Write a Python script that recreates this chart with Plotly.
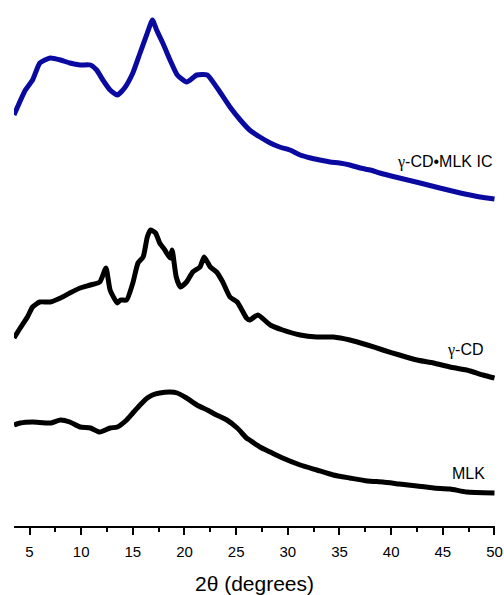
import plotly.graph_objects as go

# 2theta (degrees) and intensity (a.u., offset-stacked)
ic_2theta = [3.5, 4.6, 5.3, 6.0, 7.0, 8.0, 8.9, 9.9, 10.9, 11.5, 12.1, 12.8, 13.5, 14.2, 15.0, 15.7,
             16.4, 16.9, 17.3, 17.9, 18.6, 19.3, 20.2, 21.2, 22.2, 23.1, 24.4, 25.4, 26.3, 27.3,
             28.3, 29.2, 30.2, 31.2, 32.2, 33.1, 34.1, 35.0, 36.0, 37.0, 38.0, 38.9, 40.8, 42.8,
             44.7, 46.7, 48.6, 50.0]
ic_int = [411, 436, 446, 463, 468, 466, 463, 461, 461, 456, 446, 436, 431, 438, 453, 473,
          493, 506, 496, 483, 466, 451, 444, 451, 451, 439, 419, 406, 396, 389,
          383, 379, 376, 371, 368, 366, 364, 363, 361, 358, 356, 353, 348, 343,
          338, 333, 329, 327]

cd_2theta = [3.5, 4.1, 4.8, 5.3, 6.0, 7.0, 8.0, 8.9, 9.9, 10.9, 11.8, 12.4, 12.8, 13.5, 13.8, 14.4,
             15.0, 15.5, 16.0, 16.4, 16.7, 17.2, 17.6, 18.1, 18.6, 18.8, 19.2, 19.6, 20.2, 20.8,
             21.5, 21.9, 22.5, 23.1, 23.7, 24.4, 25.1, 26.0, 26.3, 27.1, 28.3, 29.5, 31.2, 32.8,
             34.4, 36.0, 37.7, 39.2, 40.8, 42.5, 44.1, 45.7, 47.3, 48.9, 50.0]
cd_int = [188, 198, 209, 219, 224, 224, 228, 233, 238, 241, 244, 258, 236, 223, 226, 226,
          243, 263, 269, 289, 296, 293, 283, 276, 268, 276, 249, 239, 244, 254,
          259, 269, 259, 254, 244, 229, 224, 208, 206, 211, 201, 196, 191, 189,
          189, 186, 181, 176, 171, 166, 163, 159, 156, 151, 148]

mlk_2theta = [3.5, 4.1, 5.3, 7.0, 8.0, 8.9, 9.9, 10.9, 11.8, 12.8, 13.5, 14.4, 15.0, 15.7, 16.4,
              16.9, 17.6, 18.6, 19.3, 20.2, 21.2, 22.2, 23.1, 24.1, 25.1, 26.0, 26.3, 27.3, 28.3,
              29.5, 31.2, 32.8, 34.4, 36.0, 37.7, 39.2, 40.8, 42.5, 44.1, 45.7, 47.3, 50.0]
mlk_int = [101, 103, 104, 103, 106, 104, 99, 98, 94, 98, 99, 106, 113, 121, 128,
           131, 133, 134, 133, 128, 121, 116, 111, 106, 98, 88, 86, 79, 74,
           68, 61, 56, 51, 48, 45, 44, 42, 40, 38, 37, 34, 33]

labels = ["γ-CD•MLK IC", "γ-CD", "MLK"]
label_x = [50.0, 49.2, 49.3]
label_y = [364, 176, 53]
colors = ["#0a0aa0", "#000000", "#000000"]

fig = go.Figure()
for xs, ys, c in [(ic_2theta, ic_int, colors[0]), (cd_2theta, cd_int, colors[1]), (mlk_2theta, mlk_int, colors[2])]:
    fig.add_trace(go.Scatter(x=xs, y=ys, mode="lines",
                             line=dict(color=c, width=5, shape="spline", smoothing=0.5),
                             showlegend=False, hoverinfo="skip"))

for t, lx, ly in zip(labels, label_x, label_y):
    t_html = t.replace("γ", '<span style="font-family:Liberation Serif">γ</span>')
    fig.add_annotation(x=lx, y=ly, text=t_html, showarrow=False, xanchor="right", yanchor="middle",
                       font=dict(family="Liberation Sans, Arial", size=16, color="#000000"))

fig.update_layout(
    width=504, height=595,
    margin=dict(l=14, r=9, t=0, b=69),
    paper_bgcolor="white", plot_bgcolor="white",
    font=dict(family="Liberation Sans, Arial", color="#000000"),
    xaxis=dict(range=[3.5, 50.05], showgrid=False, zeroline=False, showline=True, linecolor="black",
               linewidth=1.5, ticks="outside", ticklen=7, tickwidth=1.5, tickcolor="black",
               tickmode="array", tickvals=[5, 10, 15, 20, 25, 30, 35, 40, 45, 50],
               ticktext=["5", "10", "15", "20", "25", "30", "35", "40", "45", "50"],
               tickfont=dict(size=15), ticklabelstandoff=4,
               minor=dict(tickvals=[7.5, 12.5, 17.5, 22.5, 27.5, 32.5, 37.5, 42.5, 47.5],
                          ticks="outside", ticklen=4, tickwidth=1.5, tickcolor="black"),
               title=dict(text="2θ (degrees)", font=dict(size=21), standoff=19)),
    yaxis=dict(range=[0, 526], visible=False),
)
fig.write_html("out.html")
